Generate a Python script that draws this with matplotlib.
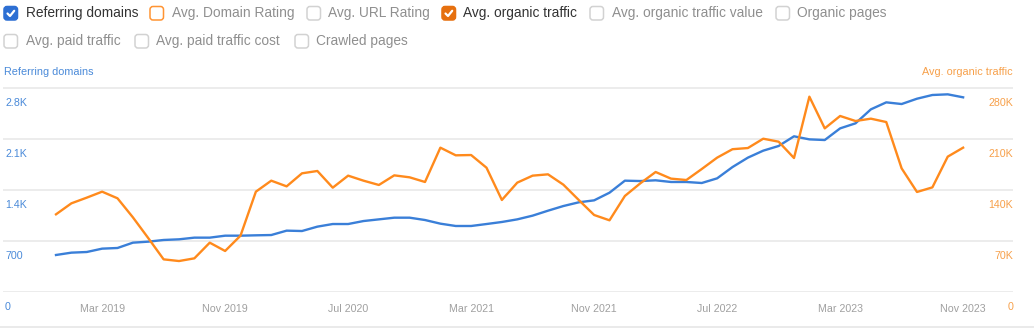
import matplotlib
matplotlib.use("Agg")
import matplotlib.pyplot as plt
from matplotlib.patches import FancyBboxPatch
from matplotlib.lines import Line2D

plt.rcParams['font.family'] = ['Liberation Sans', 'DejaVu Sans']

# ---- data (monthly, Dec 2018 .. Nov 2023) ----
referring_domains = [508, 540, 549, 595, 604, 677, 691, 714, 723, 746,
                     746, 773, 773, 778, 782, 842, 837, 897, 933, 933,
                     974, 997, 1020, 1020, 988, 938, 906, 906, 933, 961,
                     997, 1048, 1116, 1180, 1231, 1258, 1363, 1528, 1523, 1533,
                     1510, 1510, 1496, 1560, 1715, 1844, 1940, 2004, 2137, 2095,
                     2086, 2246, 2315, 2507, 2603, 2580, 2653, 2704, 2713, 2672]
organic_traffic = [106.6, 121.7, 129.5, 137.7, 128.6, 102.5, 74.0, 44.8, 42.5, 46.2,
                   67.7, 56.3, 77.3, 137.7, 152.8, 145.0, 162.9, 166.1, 143.2, 159.7,
                   152.8, 146.9, 160.1, 157.4, 151.0, 198.1, 187.6, 188.0, 170.6, 126.3,
                   150.1, 159.7, 161.5, 147.3, 126.3, 105.7, 98.4, 131.8, 149.1, 164.7,
                   155.6, 153.7, 168.8, 184.4, 196.0, 197.6, 210.4, 206.3, 183.9, 268.1,
                   224.6, 241.6, 234.7, 237.9, 233.3, 169.7, 137.3, 143.6, 185.8, 198.1]
organic_traffic = [v * 1000 for v in organic_traffic]
month_index = list(range(len(referring_domains)))

date_tick_pos = [3, 11, 19, 27, 35, 43, 51, 59]
date_tick_labels = ["Mar 2019", "Nov 2019", "Jul 2020", "Mar 2021",
                    "Nov 2021", "Jul 2022", "Mar 2023", "Nov 2023"]
left_ticks = [0, 700, 1400, 2100, 2800]
left_labels = ["0", "700", "1.4K", "2.1K", "2.8K"]
right_ticks = [0, 70000, 140000, 210000, 280000]
right_labels = ["0", "70K", "140K", "210K", "280K"]

legend_row1 = ["Referring domains", "Avg. Domain Rating", "Avg. URL Rating",
               "Avg. organic traffic", "Avg. organic traffic value", "Organic pages"]
legend_row2 = ["Avg. paid traffic", "Avg. paid traffic cost", "Crawled pages"]

BLUE = "#3a7fd8"
ORANGE = "#ff8a1c"
BLUE_TXT = "#4a8ad9"
ORANGE_TXT = "#f7a04a"
GRID = "#ebebeb"

W, H = 1034, 328
fig = plt.figure(figsize=(W / 100, H / 100), dpi=100)

# axes geometry in pixels
x_left, x_right = 3, 1013
y_bottom = 292
ymax_left = 3000
px_per_unit = 204 / 2800
y_top = y_bottom - ymax_left * px_per_unit
ax = fig.add_axes([x_left / W, 1 - y_bottom / H, (x_right - x_left) / W, (y_bottom - y_top) / H])
ax2 = ax.twinx()

# x range
px_per_month = 15.375
x0_px = 56
xmin = (x_left - x0_px) / px_per_month
xmax = (x_right - x0_px) / px_per_month
ax.set_xlim(xmin, xmax)
ax.set_ylim(0, ymax_left)
ax2.set_ylim(0, ymax_left * 100)

for a in (ax, ax2):
    for s in a.spines.values():
        s.set_visible(False)
    a.set_yticks([])
    a.patch.set_visible(False)

for t in left_ticks:
    ax.axhline(t, color=GRID, lw=1.3, zorder=0)

ax.plot(month_index, referring_domains, color=BLUE, lw=1.7, zorder=3, solid_joinstyle='round')
ax2.plot(month_index, organic_traffic, color=ORANGE, lw=1.7, zorder=3, solid_joinstyle='round')

ax.set_xticks(date_tick_pos)
ax.set_xticklabels(date_tick_labels)
ax.tick_params(axis='x', length=0, pad=9, labelsize=7.7, labelcolor="#a0a0a0")

# y labels (placed below gridlines, inside the plot)
off = 15 * px_per_unit ** -1  # 15 px in left-data units
for t, lab in zip(left_ticks, left_labels):
    ax.text(x_left + 2, y_bottom - t * px_per_unit + 15, lab, transform=None,
            ha='left', va='center', fontsize=7.7, color=BLUE_TXT)
for t, lab in zip(right_ticks, right_labels):
    ax.text(x_right, y_bottom - t * px_per_unit / 100 + 15, lab, transform=None,
            ha='right', va='center', fontsize=7.7, color=ORANGE_TXT)

# convert top-based pixel y for transform=None (display coords, origin bottom-left)
def fy(y):
    return H - y

# fix texts using display coords: adjust y (they were given top-based)
for txt in ax.texts:
    x, y = txt.get_position()
    txt.set_position((x, fy(y)))

# axis titles
fig.text(4 / W, 1 - 72 / H, "Referring domains", fontsize=7.8, color=BLUE_TXT, ha='left', va='center')
fig.text(1013 / W, 1 - 72 / H, "Avg. organic traffic", fontsize=7.8, color=ORANGE_TXT, ha='right', va='center')

# bottom border line
fig.add_artist(Line2D([0, 1], [1 - 326.5 / H, 1 - 326.5 / H], transform=fig.transFigure,
                      color="#e6e6e6", lw=1.2))

# ---- legend checkboxes ----
inch = fig.dpi_scale_trans


def checkbox(x, y, face, edge, check):
    size = 13.5
    p = FancyBboxPatch(((x) / 100, (H - y - size) / 100), size / 100, size / 100,
                       boxstyle="round,pad=0,rounding_size=0.03",
                       transform=inch, facecolor=face, edgecolor=edge, lw=1.1)
    fig.add_artist(p)
    if check:
        xs = [x + 3.5, x + 6.0, x + 10.2]
        ys = [y + 7.0, y + 9.5, y + 4.3]
        fig.add_artist(Line2D([v / 100 for v in xs], [(H - v) / 100 for v in ys],
                              transform=inch, color='white', lw=1.6,
                              solid_capstyle='round', solid_joinstyle='round'))


row1_y, row2_y = 6.5, 34.5
row1_box_x = [4, 150, 307, 442, 590, 776]
row1_text_x = [26, 172, 328, 463, 612, 797]
row1_style = [("#2d6fd3", "#2d6fd3", True, "#333333"),
              ("white", "#ff9433", False, "#8f8f8f"),
              ("white", "#d2d2d2", False, "#8f8f8f"),
              ("#e6700f", "#e6700f", True, "#333333"),
              ("white", "#d2d2d2", False, "#8f8f8f"),
              ("white", "#d2d2d2", False, "#8f8f8f")]
for bx, tx, lab, (face, edge, chk, tc) in zip(row1_box_x, row1_text_x, legend_row1, row1_style):
    checkbox(bx, row1_y, face, edge, chk)
    fig.text(tx / W, 1 - 13.5 / H, lab, fontsize=9.9, color=tc, ha='left', va='center')

row2_box_x = [4, 135, 295]
row2_text_x = [26, 156, 316]
for bx, tx, lab in zip(row2_box_x, row2_text_x, legend_row2):
    checkbox(bx, row2_y, "white", "#d2d2d2", False)
    fig.text(tx / W, 1 - 41.5 / H, lab, fontsize=9.9, color="#8f8f8f", ha='left', va='center')

fig.savefig("out.png", dpi=100)
